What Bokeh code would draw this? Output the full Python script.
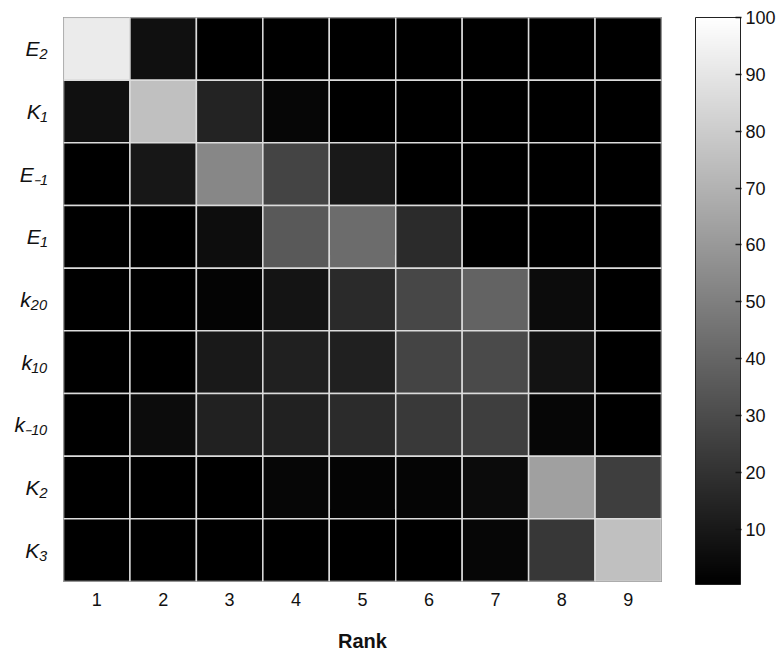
from bokeh.plotting import figure
from bokeh.models import LinearColorMapper, ColorBar, FixedTicker, Range1d, ColumnDataSource
from bokeh.embed import file_html
from bokeh.resources import INLINE

params = ["E₂", "K₁", "E₋₁", "E₁", "k₂₀", "k₁₀", "k₋₁₀", "K₂", "K₃"]
ranks = [1, 2, 3, 4, 5, 6, 7, 8, 9]
cbar_ticks = [10, 20, 30, 40, 50, 60, 70, 80, 90, 100]

row_E2 = [92.0, 6.9, 0, 0, 0, 0, 0, 0, 0]
row_K1 = [6.9, 75.2, 14.0, 3.0, 0, 0, 0, 0, 0]
row_Em1 = [0, 9.3, 52.9, 26.8, 10.4, 0, 0, 0, 0]
row_E1 = [0, 0, 5.4, 35.0, 42.4, 17.1, 0, 0, 0]
row_k20 = [0, 0, 1.9, 8.1, 16.7, 28.0, 38.9, 5.0, 0]
row_k10 = [0, 0, 10.4, 12.8, 12.8, 26.8, 29.2, 7.7, 0]
row_km10 = [0, 5.0, 13.2, 13.2, 17.1, 22.5, 24.5, 3.0, 0]
row_K2 = [0, 0, 0, 3.0, 1.9, 2.3, 4.6, 62.7, 24.5]
row_K3 = [0, 0, 0, 0, 0, 0, 3.0, 22.1, 75.2]
rows = [row_E2, row_K1, row_Em1, row_E1, row_k20, row_k10, row_km10, row_K2, row_K3]

xs, ys, vs = [], [], []
for i, row in enumerate(rows):
    for j, v in enumerate(row):
        xs.append(ranks[j])
        ys.append(i + 1)
        vs.append(v)
src = ColumnDataSource(dict(x=xs, y=ys, v=vs))

palette = ["#%02x%02x%02x" % (g, g, g) for g in range(256)]
mapper = LinearColorMapper(palette=palette, low=0.3, high=100)

p = figure(frame_width=598, frame_height=564, output_backend="svg", toolbar_location=None,
           x_range=Range1d(0.5, 9.5), y_range=Range1d(9.5, 0.5),
           min_border_left=63, min_border_top=17, min_border_right=120, min_border_bottom=10)
p.rect(x="x", y="y", width=1, height=1, source=src,
       fill_color={"field": "v", "transform": mapper},
       line_color="#dcdcdc", line_width=1.5)

p.grid.visible = False
p.outline_line_color = "#666666"
p.outline_line_width = 1

p.xaxis.ticker = FixedTicker(ticks=ranks)
p.xaxis.axis_label = "Rank"
p.xaxis.axis_label_text_font = "Liberation Sans"
p.xaxis.axis_label_text_font_style = "bold"
p.xaxis.axis_label_text_font_size = "20px"
p.xaxis.axis_label_text_color = "#111111"
p.xaxis.axis_label_standoff = 21
p.xaxis.major_label_standoff = 11

p.yaxis.ticker = FixedTicker(ticks=ranks)
p.yaxis.major_label_overrides = {i + 1: params[i] for i in range(len(params))}
p.yaxis.major_label_text_font_style = "italic"
p.yaxis.major_label_standoff = 16

for ax in (p.xaxis, p.yaxis):
    ax.axis_line_color = None
    ax.major_tick_line_color = None
    ax.minor_tick_line_color = None
    ax.major_tick_out = 0
    ax.major_tick_in = 0
    ax.major_label_text_font = "Liberation Sans"
    ax.major_label_text_color = "#111111"
p.xaxis.major_label_text_font_size = "18px"
p.yaxis.major_label_text_font_size = "21px"

cb = ColorBar(color_mapper=mapper, ticker=FixedTicker(ticks=cbar_ticks),
              width=45, height=567, margin=0, padding=0, location=(34, -3),
              bar_line_color="#222222", bar_line_width=1,
              major_tick_line_color="#111111", major_tick_line_width=1.5,
              major_tick_in=5, major_tick_out=1,
              minor_tick_line_color=None, label_standoff=4,
              major_label_text_font="Liberation Sans", major_label_text_font_size="18px",
              major_label_text_color="#111111", background_fill_alpha=0,
              border_line_color=None)
p.add_layout(cb, "right")

open("out.html", "w").write(file_html(p, INLINE))
